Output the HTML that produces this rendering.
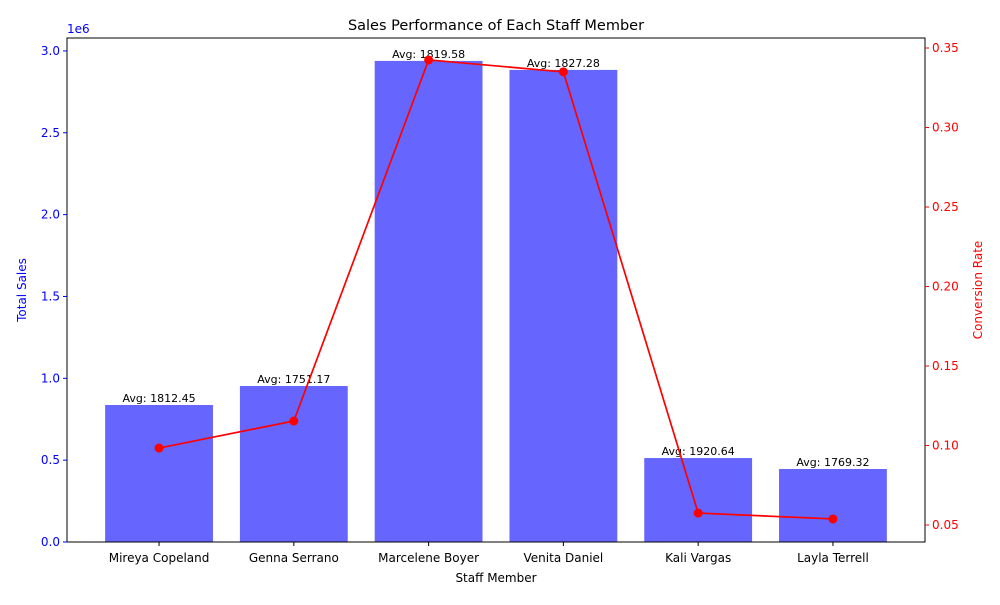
<!DOCTYPE html>
<html><head><meta charset="utf-8"><style>
body{margin:0;background:#fff;font-family:"Liberation Sans","DejaVu Sans",sans-serif}
text{font-family:"DejaVu Sans","Liberation Sans",sans-serif}
</style></head><body>
<svg id="chart" width="1000" height="600" xmlns="http://www.w3.org/2000/svg"></svg>
<script>
const staff=["Mireya Copeland","Genna Serrano","Marcelene Boyer","Venita Daniel","Kali Vargas","Layla Terrell"];
const totalSales=[837000,953000,2939000,2884000,513000,446000];
const conversion=[0.0984,0.1154,0.3425,0.335,0.0575,0.0538];
const avgLabels=["1812.45","1751.17","1819.58","1827.28","1920.64","1769.32"];
const leftTicks=[0,0.5,1.0,1.5,2.0,2.5,3.0];
const rightTicks=[0.05,0.10,0.15,0.20,0.25,0.30,0.35];

const L=67,R=925,T=38,B=542;
const svg=document.getElementById('chart');
const NS='http://www.w3.org/2000/svg';
function mk(tag,attrs,txt){const e=document.createElementNS(NS,tag);for(const k in attrs)e.setAttribute(k,attrs[k]);if(txt!==undefined)e.textContent=txt;svg.appendChild(e);return e;}
const xs=i=>L+(i+0.683)*(R-L)/(staff.length-1+1.366);
const yL=v=>B-(v/1e6)*(B-T)/3.079;
const rMin=0.0393,rMax=0.3563;
const yR=v=>B-(v-rMin)*(B-T)/(rMax-rMin);
const bw=0.8*(R-L)/(staff.length-1+1.366);

staff.forEach((s,i)=>{
 const b=mk('rect',{x:xs(i)-bw/2,y:yL(totalSales[i]),width:bw,height:B-yL(totalSales[i]),fill:'#6666ff'});
 
 
 const t=mk('text',{x:xs(i),y:yL(totalSales[i])-3,'text-anchor':'middle','font-size':11},'Avg: '+avgLabels[i]);
 
 
});
const pts=conversion.map((v,i)=>xs(i)+','+yR(v)).join(' ');
const ln=mk('polyline',{points:pts,fill:'none',stroke:'red','stroke-width':1.7});


conversion.forEach((v,i)=>{
 const c=mk('circle',{cx:xs(i),cy:yR(v),r:4.5,fill:'red'});
 
 
});
const fr=mk('rect',{x:L,y:T,width:R-L,height:B-T,fill:'none',stroke:'#000','stroke-width':1});


leftTicks.forEach(v=>{
 const y=yL(v*1e6);
 mk('line',{x1:L-4,x2:L,y1:y,y2:y,stroke:'blue'});
 const t=mk('text',{x:L-7,y:y+4,'text-anchor':'end','font-size':12,fill:'blue'},v.toFixed(1));
 
 
});
rightTicks.forEach(v=>{
 const y=yR(v);
 mk('line',{x1:R,x2:R+4,y1:y,y2:y,stroke:'red'});
 const t=mk('text',{x:R+7,y:y+4,'font-size':12,fill:'red'},v.toFixed(2));
 
 
});
staff.forEach((s,i)=>{
 mk('line',{x1:xs(i),x2:xs(i),y1:B,y2:B+4,stroke:'#000'});
 const t=mk('text',{x:xs(i),y:B+20,'text-anchor':'middle','font-size':12},s);
 
 
});
const e6=mk('text',{x:L,y:T-5,'font-size':12,fill:'blue'},'1e6');


const ttl=mk('text',{x:(L+R)/2,y:T-8,'text-anchor':'middle','font-size':14.5},'Sales Performance of Each Staff Member');


const xt=mk('text',{x:(L+R)/2,y:B+40,'text-anchor':'middle','font-size':12},'Staff Member');


const yt=mk('text',{x:0,y:0,'text-anchor':'middle','font-size':12,fill:'blue',transform:'translate(26,'+((T+B)/2)+') rotate(-90)'},'Total Sales');


const yt2=mk('text',{x:0,y:0,'text-anchor':'middle','font-size':12,fill:'red',transform:'translate(982,'+((T+B)/2)+') rotate(-90)'},'Conversion Rate');


</script>
</body></html>
